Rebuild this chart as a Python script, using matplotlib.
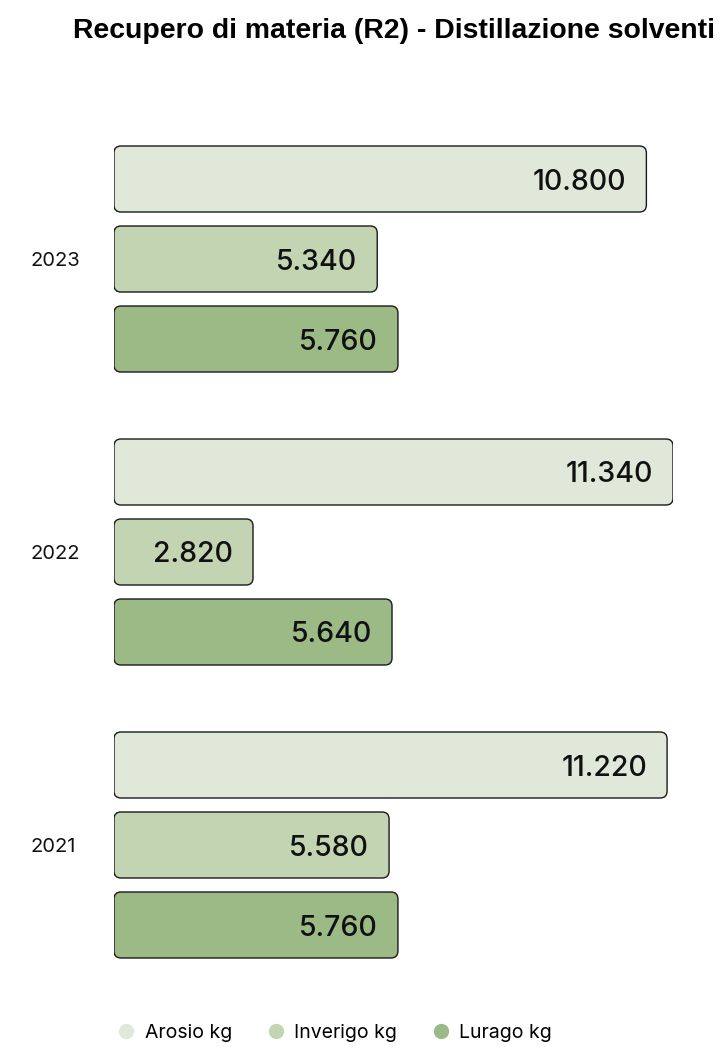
import matplotlib.pyplot as plt
from matplotlib.patches import FancyBboxPatch
from matplotlib.lines import Line2D

years = ['2021', '2022', '2023']
arosio = [11220, 11340, 10800]
inverigo = [5580, 2820, 5340]
lurago = [5760, 5640, 5760]

series = [
    ('Arosio kg', arosio, '#dfe8d9'),
    ('Inverigo kg', inverigo, '#c2d4b2'),
    ('Lurago kg', lurago, '#9bba86'),
]

W, H = 723, 1047
fig = plt.figure(figsize=(W / 100, H / 100), dpi=100)

# axes in pixel terms: bars start at x=114, longest bar ends at x=673
x0, x1 = 114, 673
ax = fig.add_axes([x0 / W, 0, (x1 - x0) / W, 1])
xmax = 11340
ax.set_xlim(0, xmax)
px_per_unit_y = 293
ax.set_ylim(-202 / px_per_unit_y, (H - 202) / px_per_unit_y)
ax.axis('off')

offset = 80 / px_per_unit_y
bar_h = 66 / px_per_unit_y
radius_px = 7

# data units per pixel on both axes, for round corners
ux = xmax / (x1 - x0)
uy = 1 / px_per_unit_y

for i, year in enumerate(years):
    for j, (name, vals, color) in enumerate(series):
        y = i + offset * (1 - j)
        v = vals[i]
        patch = FancyBboxPatch(
            (radius_px * ux, y - bar_h / 2 + radius_px * uy),
            v - 2 * radius_px * ux, bar_h - 2 * radius_px * uy,
            boxstyle=f'round,pad={radius_px * ux}',
            mutation_aspect=uy / ux,
            facecolor=color, edgecolor='#1a1a1a', linewidth=1.0,
        )
        ax.add_patch(patch)
        label = f'{v:,}'.replace(',', '.')
        ax.text(v - 20 * ux, y, label, ha='right', va='center_baseline',
                fontsize=20.5, family='Inter', fontweight='medium', color='#111111')
    fig.text(31 / W, 1 - (259 + 293 * (2 - i)) / H, year, ha='left',
             va='center_baseline', fontsize=14.5, family='Inter', color='#111111')

fig.text(394 / W, 1 - 31 / H, 'Recupero di materia (R2) - Distillazione solventi',
         ha='center', va='center', fontsize=20.4, fontweight='bold',
         family='Liberation Sans', color='black')

handles = [Line2D([], [], marker='o', linestyle='', markersize=11,
                  markerfacecolor=c, markeredgecolor='none', label=n)
           for n, _, c in series]
fig.legend(handles=handles, loc='center', bbox_to_anchor=(332 / W, 1 - 1033 / H),
           ncol=3, frameon=False, handletextpad=0.2, columnspacing=1.5,
           handlelength=1.5, prop={'family': 'Inter', 'size': 14})

fig.savefig('out.png', dpi=100)
